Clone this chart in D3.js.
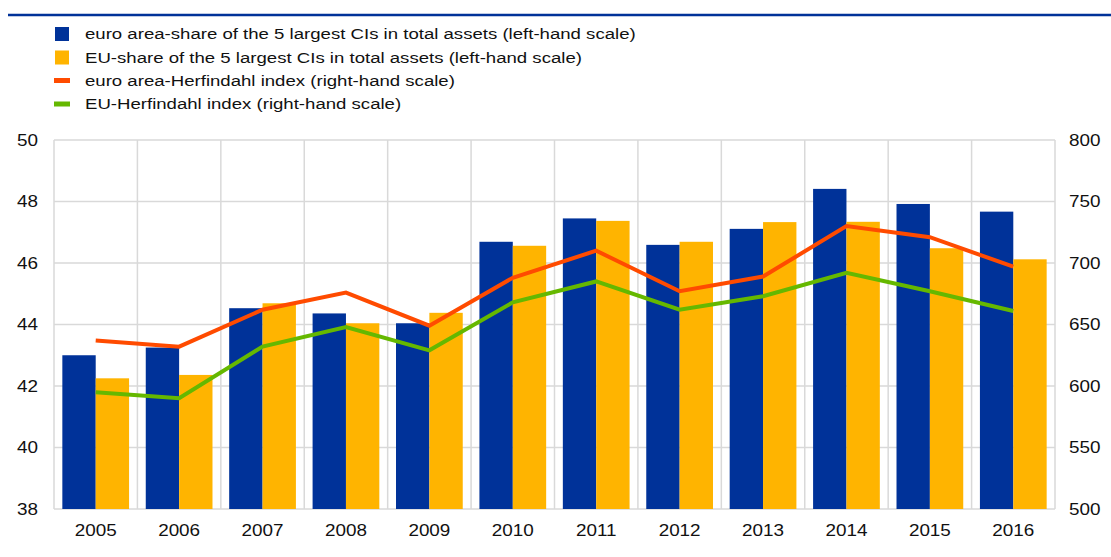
<!DOCTYPE html>
<html>
<head>
<meta charset="utf-8">
<script src="https://cdn.jsdelivr.net/npm/d3@7"></script>
<style>
  html, body { margin: 0; padding: 0; background: #fff; }
  svg { display: block; font-family: "Liberation Sans", Arial, sans-serif; }
</style>
</head>
<body>
<svg id="chart" width="1111" height="557"></svg>
<script>
const years = ["2005","2006","2007","2008","2009","2010","2011","2012","2013","2014","2015","2016"];
const euroAreaShare = [43.0, 43.25, 44.53, 44.36, 44.04, 46.69, 47.45, 46.59, 47.11, 48.41, 47.92, 47.67];
const euShare       = [42.25, 42.36, 44.69, 44.04, 44.38, 46.56, 47.37, 46.69, 47.33, 47.34, 46.48, 46.12];
const euroAreaHHI   = [637, 632, 662, 676, 649, 688, 710, 677, 689, 730, 721, 697];
const euHHI         = [595, 590, 632, 648, 629, 668, 685, 662, 673, 692, 677, 661];
const leftTicks  = [38, 40, 42, 44, 46, 48, 50];
const rightTicks = [500, 550, 600, 650, 700, 750, 800];
const legendLabels = [
  "euro area-share of the 5 largest CIs in total assets (left-hand scale)",
  "EU-share of the 5 largest CIs in total assets (left-hand scale)",
  "euro area-Herfindahl index (right-hand scale)",
  "EU-Herfindahl index (right-hand scale)"
];

const colors = { blue: "#003299", yellow: "#FFB400", orange: "#FF4B00", green: "#65B800", grid: "#d9d9d9", text: "#111" };

const svg = d3.select("#chart");
const L = 54, R = 1055, T = 140, B = 509;

const x = d3.scaleBand().domain(years).range([L, R]).padding(0);
const x1 = d3.scaleBand().domain(["ea", "eu"]).range([0, x.bandwidth()]).paddingInner(0).paddingOuter(0.25);
const yL = d3.scaleLinear().domain([38, 50]).range([B, T]);
const yR = d3.scaleLinear().domain([500, 800]).range([B, T]);

// top rule
svg.append("line").attr("x1", 8).attr("x2", 1111).attr("y1", 15).attr("y2", 15)
  .attr("stroke", colors.blue).attr("stroke-width", 2.5);

// gridlines
const grid = svg.append("g");
grid.selectAll("line.h").data(leftTicks).join("line")
  .attr("x1", L).attr("x2", R).attr("y1", d => yL(d)).attr("y2", d => yL(d))
  .attr("stroke", colors.grid).attr("stroke-width", 1.5);
const vBounds = years.map(d => x(d)).concat([R]);
grid.selectAll("line.v").data(vBounds).join("line")
  .attr("x1", d => d).attr("x2", d => d).attr("y1", T).attr("y2", B)
  .attr("stroke", colors.grid).attr("stroke-width", 1.5);

// bars
const barData = years.map((yr, i) => ({ yr, ea: euroAreaShare[i], eu: euShare[i] }));
const gBars = svg.append("g");
gBars.selectAll("g").data(barData).join("g")
  .attr("transform", d => `translate(${x(d.yr)},0)`)
  .selectAll("rect").data(d => [{ k: "ea", v: d.ea }, { k: "eu", v: d.eu }]).join("rect")
  .attr("x", d => x1(d.k)).attr("width", x1.bandwidth())
  .attr("y", d => yL(d.v)).attr("height", d => B - yL(d.v))
  .attr("fill", d => d.k === "ea" ? colors.blue : colors.yellow);

// lines
const line = d3.line().x((d, i) => x(years[i]) + x.bandwidth() / 2).y(d => yR(d));
svg.append("path").datum(euroAreaHHI).attr("d", line).attr("fill", "none")
  .attr("stroke", colors.orange).attr("stroke-width", 4);
svg.append("path").datum(euHHI).attr("d", line).attr("fill", "none")
  .attr("stroke", colors.green).attr("stroke-width", 4);

// axes
const axL = svg.append("g").attr("transform", `translate(${L - 16},0)`)
  .call(d3.axisLeft(yL).tickValues(leftTicks).tickSize(0).tickPadding(0));
const axR = svg.append("g").attr("transform", `translate(${R + 14},0)`)
  .call(d3.axisRight(yR).tickValues(rightTicks).tickSize(0).tickPadding(0));
const axB = svg.append("g").attr("transform", `translate(0,${B})`)
  .call(d3.axisBottom(x).tickSize(0).tickPadding(16));
[axL, axR, axB].forEach(a => {
  a.select(".domain").remove();
  a.selectAll("text").attr("font-size", 16).attr("fill", colors.text)
    .attr("font-family", '"Liberation Sans", Arial, sans-serif')
    .attr("transform", "scale(1.18,1)");
});

// legend
const legendColors = [colors.blue, colors.yellow, colors.orange, colors.green];
const legendY = [34, 57.5, 80.5, 104];
const lg = svg.append("g");
legendLabels.forEach((lab, i) => {
  if (i < 2) {
    lg.append("rect").attr("x", 55).attr("y", legendY[i] - 7).attr("width", 14).attr("height", 14)
      .attr("fill", legendColors[i]);
  } else {
    lg.append("rect").attr("x", 54).attr("y", legendY[i] - 2.5).attr("width", 16).attr("height", 5)
      .attr("fill", legendColors[i]);
  }
  lg.append("text").attr("transform", `translate(85,${legendY[i]}) scale(1.2,1)`)
    .attr("dy", "0.35em").attr("font-size", 15.5).attr("fill", colors.text).text(lab);
});
</script>
</body>
</html>
